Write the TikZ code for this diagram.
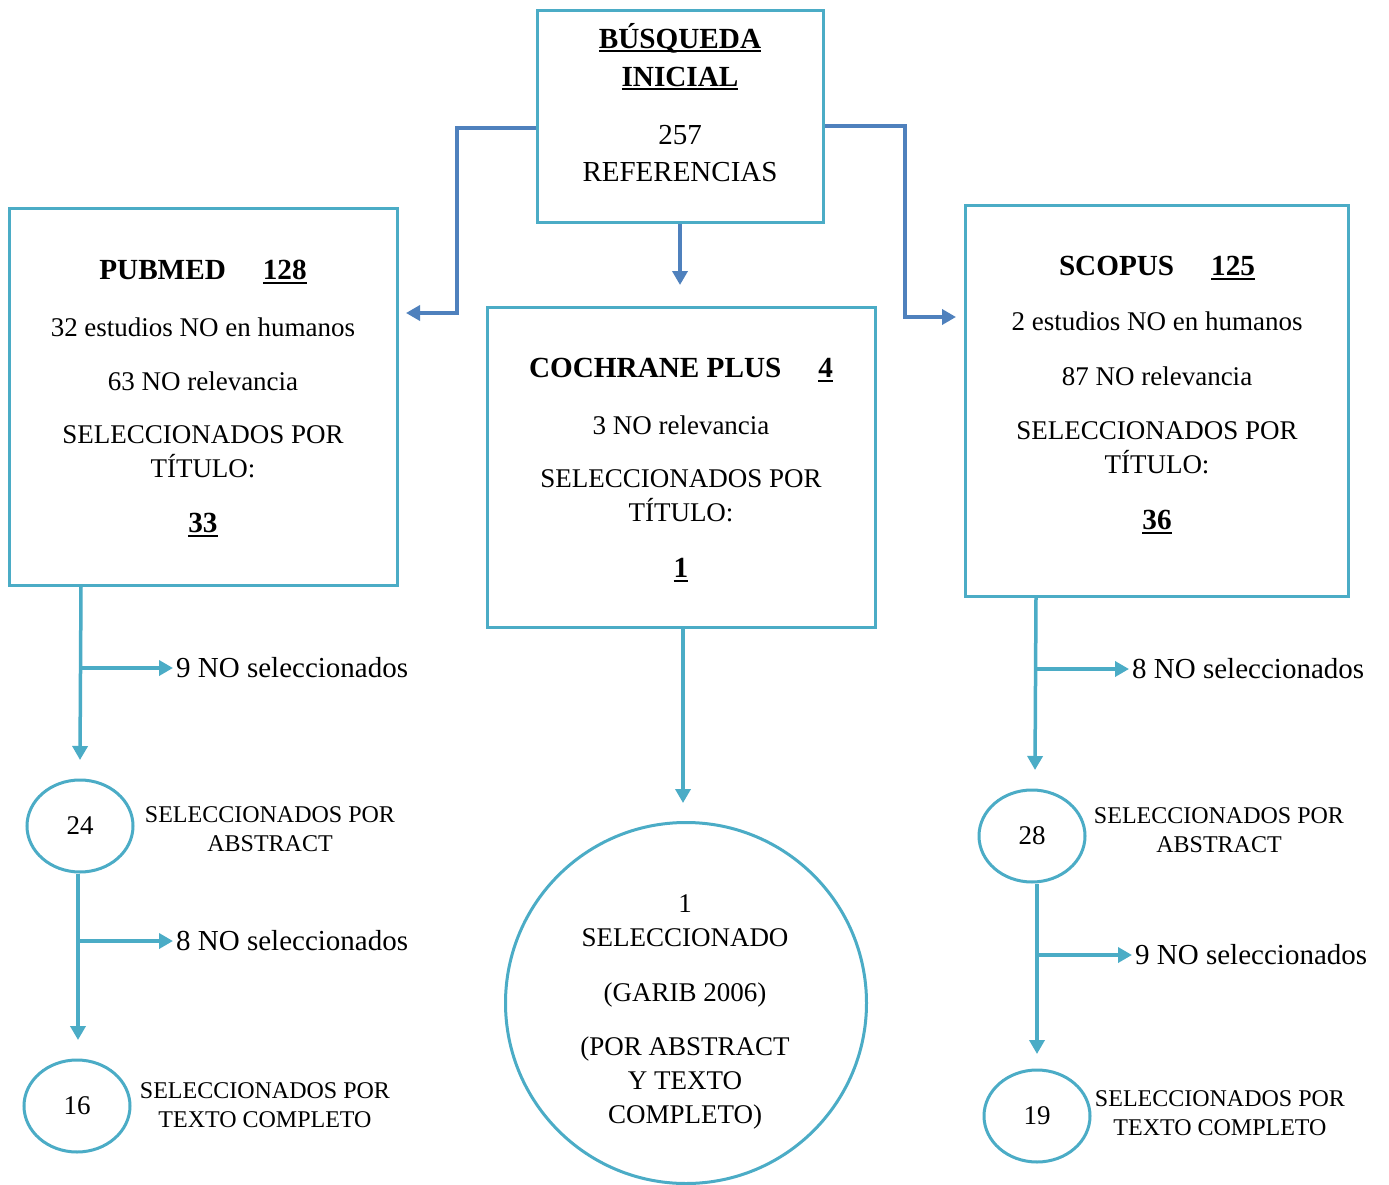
\documentclass[tikz,border=0pt]{standalone}
\usepackage{fontspec}
\setmainfont{Liberation Serif}
\usetikzlibrary{arrows.meta,shapes.geometric,positioning}
\definecolor{boxteal}{HTML}{4BACC6}
\definecolor{arrblue}{HTML}{4F81BD}
\newcommand{\txtbody}{\fontsize{27}{34}\selectfont}
\newcommand{\txtbig}{\fontsize{29}{36}\selectfont}
\newcommand{\txthead}{\bfseries\fontsize{29.2}{34}\selectfont}
\newcommand{\txtsmall}{\fontsize{24}{29}\selectfont}
\newcommand{\txtno}{\fontsize{29}{34}\selectfont}
\newcommand{\undl}[1]{\leavevmode\setbox0\hbox{#1}\rlap{\rule[-4pt]{\wd0}{2pt}}\box0}

\begin{document}
\begin{tikzpicture}[x=1pt, y=-1pt,
  refbox/.style={draw=boxteal, line width=3pt, inner sep=0pt},
  selcirc/.style={ellipse, draw=boxteal, line width=3pt, minimum width=106pt, minimum height=92pt, inner sep=0pt, font=\txtbody},
  boxtxt/.style={align=center, inner sep=0pt, anchor=north, font=\txtbody},
  smalltxt/.style={align=center, inner sep=0pt, font=\txtsmall},
  notxt/.style={anchor=west, inner sep=3pt, font=\txtno},
  blarrow/.style={draw=arrblue, line width=3.5pt, -{Triangle[width=15pt,length=14pt]}},
  tlarrow/.style={draw=boxteal, line width=3.5pt, -{Triangle[width=15pt,length=14pt]}}]

\fill[white] (0,0) rectangle (1389,1185);
\useasboundingbox (0,0) rectangle (1389,1185);

\node[refbox, minimum width=286pt, minimum height=212pt] (busq) at (680,117) {};
\node[boxtxt, font=\txtbig] (busqtxt) at (680,23)
  {{\txthead\undl{BÚSQUEDA}}\\[2pt]{\txthead\undl{INICIAL}}\\[22pt]257\\[1pt]REFERENCIAS};

\node[refbox, minimum width=388pt, minimum height=377pt] (pub) at (203,397) {};
\node[boxtxt] (pubtxt) at (203,260)
  {{\txthead PUBMED\hspace{37pt}\undl{128}}\\[23pt]32 estudios NO en humanos\\[20pt]63 NO relevancia\\[19pt]SELECCIONADOS POR\\TÍTULO:\\[21pt]{\txthead\undl{33}}};

\node[refbox, minimum width=388pt, minimum height=320pt] (coch) at (681,467) {};
\node[boxtxt] (cochtxt) at (681,358)
  {{\txthead COCHRANE PLUS\hspace{37pt}\undl{4}}\\[23pt]3 NO relevancia\\[19pt]SELECCIONADOS POR\\TÍTULO:\\[22pt]{\txthead\undl{1}}};

\node[refbox, minimum width=383pt, minimum height=390pt] (sco) at (1157,401) {};
\node[boxtxt] (scotxt) at (1157,256)
  {{\txthead SCOPUS\hspace{37pt}\undl{125}}\\[21pt]2 estudios NO en humanos\\[21pt]87 NO relevancia\\[20pt]SELECCIONADOS POR\\TÍTULO:\\[22pt]{\txthead\undl{36}}};

\coordinate (k1) at (457,128);
\coordinate (k2) at (905,126);
\coordinate (pubin) at (406,313);
\coordinate (scoin) at (956,317);
\coordinate (cochin) at (680,285);
\draw[blarrow] (busq.west |- k1) -- (k1) |- (pubin);
\draw[blarrow] (busq.east |- k2) -- (k2) |- (scoin);
\draw[blarrow] (busq.south) -- (cochin);

\node[selcirc] (c24) at (80,826) {24};
\node[selcirc] (c16) at (77,1106) {16};
\node[smalltxt] (abs1) at (270,829) {SELECCIONADOS POR\\ABSTRACT};
\node[smalltxt] (tex1) at (265,1105) {SELECCIONADOS POR\\TEXTO COMPLETO};
\node[notxt] (no9a) at (173,668) {9 NO seleccionados};
\node[notxt] (no8a) at (173,941) {8 NO seleccionados};
\coordinate (b1) at (81,668);
\coordinate (t1) at (80,760);
\coordinate (b2) at (78,941);
\coordinate (t2) at (78,1040);
\draw[tlarrow] (pub.south -| b1) -- (t1);
\draw[tlarrow] (b1) -- (no9a.west);
\draw[tlarrow] (c24.south -| b2) -- (t2);
\draw[tlarrow] (b2) -- (no8a.west);

\node[circle, draw=boxteal, line width=3pt, minimum size=361pt, inner sep=0pt] (garib) at (686,1003) {};
\node[boxtxt] (garibtxt) at (685,894)
  {1\\SELECCIONADO\\[21pt](GARIB 2006)\\[20pt](POR ABSTRACT\\Y TEXTO\\COMPLETO)};
\coordinate (t5) at (683,803);
\draw[tlarrow] (coch.south -| t5) -- (t5);

\node[selcirc] (c28) at (1032,836) {28};
\node[selcirc] (c19) at (1037,1116) {19};
\node[smalltxt] (abs2) at (1219,830) {SELECCIONADOS POR\\ABSTRACT};
\node[smalltxt] (tex2) at (1220,1113) {SELECCIONADOS POR\\TEXTO COMPLETO};
\node[notxt] (no8b) at (1129,669) {8 NO seleccionados};
\node[notxt] (no9b) at (1132,955) {9 NO seleccionados};
\coordinate (b3) at (1036,669);
\coordinate (t3) at (1035,770);
\coordinate (b4) at (1037,955);
\coordinate (t4) at (1037,1054);
\draw[tlarrow] (sco.south -| b3) -- (t3);
\draw[tlarrow] (b3) -- (no8b.west);
\draw[tlarrow] (c28.south -| b4) -- (t4);
\draw[tlarrow] (b4) -- (no9b.west);

\end{tikzpicture}
\end{document}
